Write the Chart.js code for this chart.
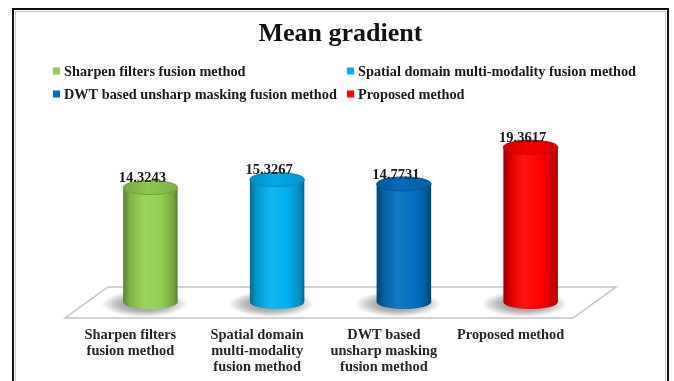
<!DOCTYPE html>
<html lang="en">
<head>
  <meta charset="UTF-8" />
  <meta name="viewport" content="width=device-width, initial-scale=1.0"/>
  <title>Mean gradient</title>
  <script src="https://cdn.jsdelivr.net/npm/chart.js"></script>
  <style>
    html, body { margin: 0; padding: 0; background: #fff; }
    #box { width: 674px; height: 381px; }
  </style>
</head>
<body>
  <div id="box"><canvas id="graficoMG" width="674" height="381"></canvas></div>

<script>
// data
const methods = [
  'Sharpen filters fusion method',
  'Spatial domain multi-modality fusion method',
  'DWT based unsharp masking fusion method',
  'Proposed method'
];
const axisLabels = [
  ['Sharpen filters', 'fusion method'],
  ['Spatial domain', 'multi-modality', 'fusion method'],
  ['DWT based', 'unsharp masking', 'fusion method'],
  ['Proposed method']
];
const meanGradient = [14.3243, 15.3267, 14.7731, 19.3617];
const colors = ['#92D050', '#00B0F0', '#0070C0', '#FF0000'];

const SERIF = '"Liberation Serif", "Times New Roman", serif';

// darken (f<1) or lighten (f>1) a hex colour
function shade(hex, f) {
  let r = parseInt(hex.substr(1, 2), 16), g = parseInt(hex.substr(3, 2), 16), b = parseInt(hex.substr(5, 2), 16);
  if (f < 1) { r *= f; g *= f; b *= f; }
  else { const t = f - 1; r += (255 - r) * t; g += (255 - g) * t; b += (255 - b) * t; }
  return `rgb(${Math.round(r)},${Math.round(g)},${Math.round(b)})`;
}

// frame, floor, cylinders, legend and value labels
const cylinderPlugin = {
  id: 'cylinders',
  beforeDraw(chart) {
    const c = chart.ctx;
    c.save();
    c.fillStyle = '#fff';
    c.fillRect(0, 0, chart.width, chart.height);
    c.strokeStyle = '#c8c8c8';
    c.lineWidth = 1;
    c.strokeRect(15.5, 11.5, 650, 400);
    c.strokeStyle = '#111';
    c.lineWidth = 2;
    c.strokeRect(13, 9, 655, 400);
    c.restore();
  },
  beforeDatasetsDraw(chart) {
    const c = chart.ctx;
    const a = chart.chartArea;
    const base = chart.scales.y.getPixelForValue(0);

    // floor
    c.save();
    c.beginPath();
    c.moveTo(a.left + 21, base - 15);
    c.lineTo(a.right + 22, base - 15);
    c.lineTo(a.right - 21, base + 16);
    c.lineTo(a.left - 22, base + 16);
    c.closePath();
    c.fillStyle = '#fff';
    c.fill();
    c.strokeStyle = '#c4c4c4';
    c.lineWidth = 1.5;
    c.stroke();

    const meta = chart.getDatasetMeta(0);
    meta.data.forEach((bar, i) => {
      const col = colors[i];
      const cx = bar.x, rx = bar.width / 2, top = bar.y, bot = bar.base, ry = 7;

      // shadow
      c.save();
      c.translate(cx - 6, bot + 2);
      c.scale(1, 0.3);
      const sg = c.createRadialGradient(0, 0, 0, 0, 0, rx + 16);
      sg.addColorStop(0, 'rgba(0,0,0,0.5)');
      sg.addColorStop(0.6, 'rgba(0,0,0,0.28)');
      sg.addColorStop(1, 'rgba(0,0,0,0)');
      c.fillStyle = sg;
      c.beginPath();
      c.arc(0, 0, rx + 16, 0, Math.PI * 2);
      c.fill();
      c.restore();

      // body
      const lg = c.createLinearGradient(cx - rx, 0, cx + rx, 0);
      lg.addColorStop(0, shade(col, 0.62));
      lg.addColorStop(0.12, shade(col, 0.85));
      lg.addColorStop(0.38, shade(col, 1.08));
      lg.addColorStop(0.7, col);
      lg.addColorStop(0.92, shade(col, 0.8));
      lg.addColorStop(1, shade(col, 0.6));
      c.beginPath();
      c.moveTo(cx - rx, top);
      c.lineTo(cx - rx, bot);
      c.ellipse(cx, bot, rx, ry, 0, Math.PI, 0, true);
      c.lineTo(cx + rx, top);
      c.closePath();
      c.fillStyle = lg;
      c.fill();

      // top
      const tg = c.createLinearGradient(cx - rx, 0, cx + rx, 0);
      tg.addColorStop(0, shade(col, 0.8));
      tg.addColorStop(0.45, shade(col, 0.96));
      tg.addColorStop(1, shade(col, 0.85));
      c.beginPath();
      c.ellipse(cx, top, rx, ry, 0, 0, Math.PI * 2);
      c.fillStyle = tg;
      c.fill();
      c.strokeStyle = shade(col, 0.78);
      c.lineWidth = 1;
      c.stroke();
    });
    c.restore();
    return false;
  },
  afterDraw(chart) {
    const c = chart.ctx;
    c.save();

    // value labels
    const meta = chart.getDatasetMeta(0);
    c.font = 'bold 14.5px ' + SERIF;
    c.fillStyle = '#1a1a1a';
    c.textAlign = 'center';
    c.textBaseline = 'middle';
    meta.data.forEach((bar, i) => {
      c.fillText(meanGradient[i].toFixed(4), bar.x - 8, bar.y - 9);
    });

    // legend, two columns
    const cols = [53, 347], rows = [71, 94];
    c.font = 'bold 14.3px ' + SERIF;
    c.textAlign = 'left';
    methods.forEach((m, i) => {
      const x = cols[i % 2], y = rows[Math.floor(i / 2)];
      c.fillStyle = colors[i];
      c.fillRect(x, y - 3.5, 7, 7);
      c.fillStyle = '#1a1a1a';
      c.fillText(m, x + 11, y + 1);
    });
    c.restore();
  }
};

const ctx = document.getElementById('graficoMG').getContext('2d');
const grafico = new Chart(ctx, {
  type: 'bar',
  data: {
    labels: axisLabels,
    datasets: [{
      label: 'Mean gradient',
      data: meanGradient,
      backgroundColor: colors,
      categoryPercentage: 1,
      barPercentage: 0.43
    }]
  },
  options: {
    responsive: false,
    animation: false,
    layout: { padding: { left: 87, right: 80, top: 0, bottom: 6 } },
    plugins: {
      legend: { display: false },
      tooltip: { enabled: false },
      title: {
        display: true,
        text: 'Mean gradient',
        color: '#111',
        font: { family: SERIF, size: 26, weight: 'bold' },
        padding: { top: 19, bottom: 68 }
      }
    },
    scales: {
      x: {
        grid: { display: false, drawTicks: false },
        border: { display: false },
        afterFit(scale) { scale.height = 73; },
        ticks: {
          color: '#262626',
          font: { family: SERIF, size: 14.4, weight: 'bold', lineHeight: '16px' },
          padding: 25,
          labelOffset: -20,
          maxRotation: 0,
          autoSkip: false
        }
      },
      y: {
        display: false,
        min: 0,
        max: 23
      }
    }
  },
  plugins: [cylinderPlugin]
});
</script>
</body>
</html>
